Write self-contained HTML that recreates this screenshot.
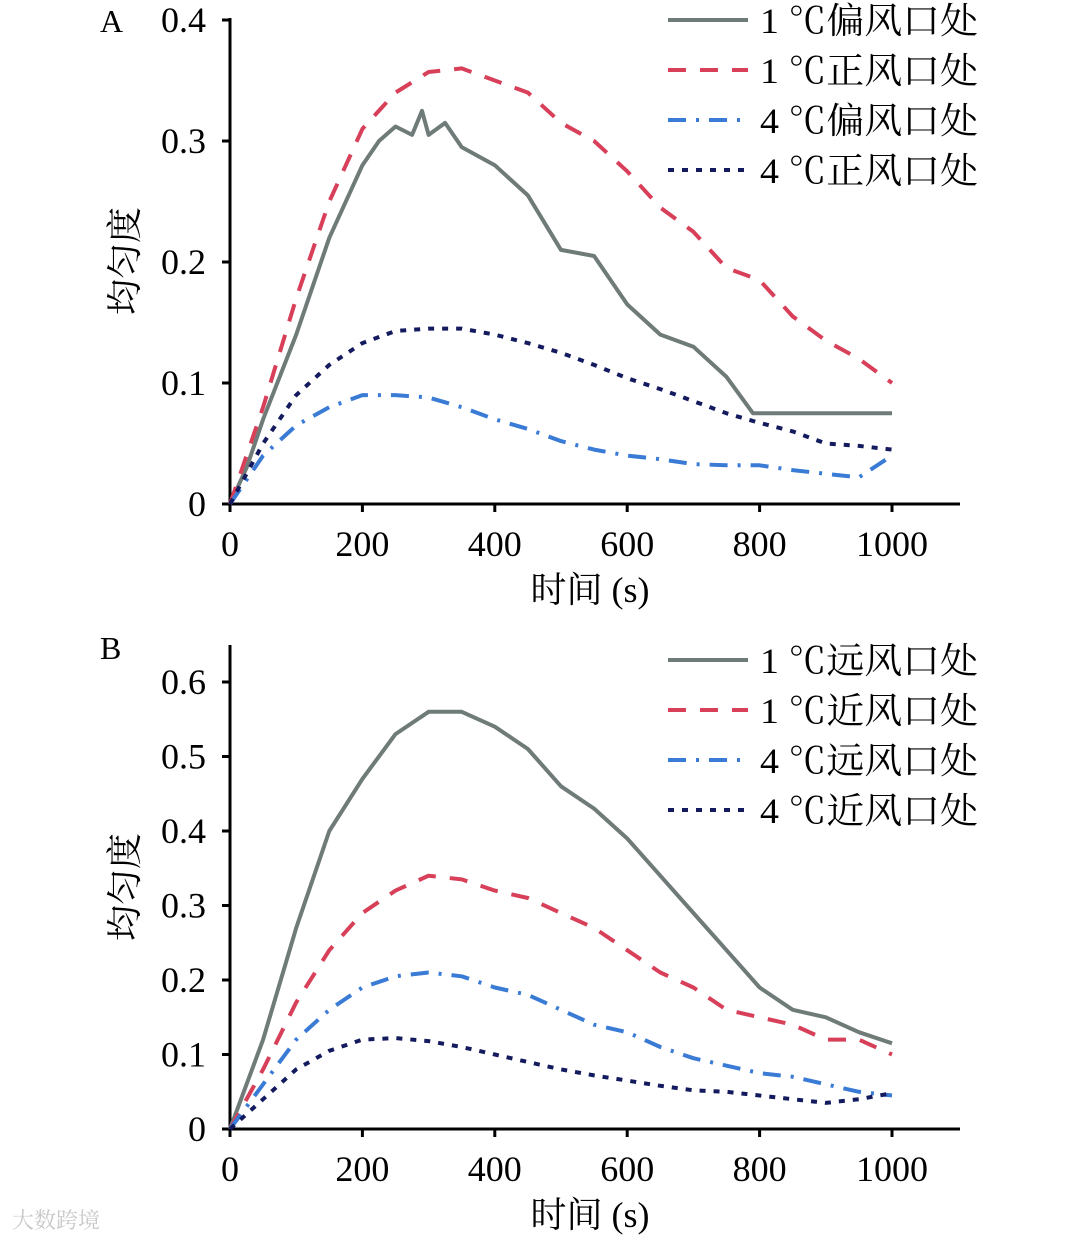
<!DOCTYPE html>
<html><head><meta charset="utf-8"><style>
body{margin:0;background:#fff}
svg{display:block;font-family:"Liberation Serif","Noto Serif CJK SC",serif}
</style></head><body>
<svg id="c" width="1080" height="1240" viewBox="0 0 1080 1240"></svg>
<script>
const xs=[0,50,100,150,200,250,300,350,400,450,500,550,600,650,700,750,800,850,900,950,1000];
const xTicks=[0,200,400,600,800,1000];
const yTicksA=[0,0.1,0.2,0.3,0.4];
const yTicksB=[0,0.1,0.2,0.3,0.4,0.5,0.6];
const xsGrayA=[0,25,50,100,150,200,225,250,275,290,300,325,350,400,450,500,550,600,650,700,750,790,1000];
const grayA=[0,0.03,0.07,0.14,0.22,0.28,0.30,0.312,0.305,0.325,0.305,0.315,0.295,0.28,0.255,0.21,0.205,0.165,0.14,0.13,0.105,0.075,0.075];
const redA=[0,0.08,0.17,0.25,0.31,0.34,0.357,0.36,0.35,0.34,0.315,0.30,0.275,0.245,0.225,0.195,0.185,0.155,0.135,0.12,0.10];
const blueA=[0,0.04,0.065,0.08,0.09,0.09,0.088,0.08,0.07,0.062,0.052,0.045,0.04,0.037,0.033,0.032,0.032,0.028,0.025,0.022,0.04];
const navyA=[0,0.05,0.09,0.115,0.133,0.143,0.145,0.145,0.14,0.133,0.125,0.115,0.104,0.095,0.085,0.075,0.067,0.06,0.05,0.048,0.045];
const grayB=[0,0.12,0.27,0.40,0.47,0.53,0.56,0.56,0.54,0.51,0.46,0.43,0.39,0.34,0.29,0.24,0.19,0.16,0.15,0.13,0.115];
const redB=[0,0.08,0.17,0.24,0.29,0.32,0.34,0.335,0.32,0.31,0.29,0.27,0.24,0.21,0.19,0.16,0.15,0.14,0.12,0.12,0.10];
const blueB=[0,0.06,0.12,0.16,0.19,0.205,0.21,0.205,0.19,0.18,0.16,0.14,0.13,0.11,0.095,0.085,0.075,0.07,0.06,0.05,0.045];
const navyB=[0,0.04,0.08,0.105,0.12,0.122,0.118,0.11,0.10,0.09,0.08,0.072,0.065,0.058,0.052,0.05,0.045,0.04,0.035,0.04,0.048];
const legendA=["1 ℃偏风口处","1 ℃正风口处","4 ℃偏风口处","4 ℃正风口处"];
const legendB=["1 ℃远风口处","1 ℃近风口处","4 ℃远风口处","4 ℃近风口处"];

const NS="http://www.w3.org/2000/svg";
const svg=document.getElementById('c');
function mk(tag,attrs,parent){const e=document.createElementNS(NS,tag);for(const k in attrs)e.setAttribute(k,attrs[k]);(parent||svg).appendChild(e);return e;}
const styles=[
 {stroke:"#6f7b78",dash:""},
 {stroke:"#d8405a",dash:"18 14"},
 {stroke:"#3a7bd5",dash:"18 10 3 10"},
 {stroke:"#141a5e",dash:"6 8"}];
function panel(o){
 const g=mk('g',{});
 
 
 const X=v=>230+v*0.662, Y=v=>o.y0-v*o.scale;
 const ax=mk('path',{d:`M230 ${o.top} V${o.y0} H960`,fill:"none",stroke:"#000","stroke-width":3},g);
 
 xTicks.forEach(t=>{
  const l=mk('line',{x1:X(t),x2:X(t),y1:o.y0,y2:o.y0+8,stroke:"#000","stroke-width":3},g);
  
  const tx=mk('text',{x:X(t),y:o.y0+52,"text-anchor":"middle","font-size":36},g);tx.textContent=t;
  
 });
 o.yt.forEach(t=>{
  const l=mk('line',{x1:222,x2:230,y1:Y(t),y2:Y(t),stroke:"#000","stroke-width":3},g);
  
  const tx=mk('text',{x:206,y:Y(t)+12,"text-anchor":"end","font-size":36},g);tx.textContent=t;
  
 });
 const lab=mk('text',{x:100,y:o.top+14,"font-size":32},g);lab.textContent=o.label;
 
 const yt=mk('text',{x:0,y:0,"font-size":36,"text-anchor":"middle",transform:`translate(137 ${(o.top+o.y0)/2}) rotate(-90)`},g);yt.textContent="均匀度";
 
 const xt=mk('text',{x:590,y:o.y0+98,"font-size":36,"text-anchor":"middle"},g);xt.textContent="时间 (s)";
 
 o.series.forEach((s,i)=>{
  const pts=s.x.map((x,j)=>X(x).toFixed(1)+","+Y(s.y[j]).toFixed(1)).join(" ");
  const p=mk('polyline',{points:pts,fill:"none",stroke:styles[i].stroke,"stroke-width":4,"stroke-dasharray":styles[i].dash,"stroke-linejoin":"round"},g);
  
 });
 o.legend.forEach((t,i)=>{
  const ly=o.legTop+i*50;
  const l=mk('line',{x1:668,x2:748,y1:ly,y2:ly,stroke:styles[i].stroke,"stroke-width":4,"stroke-dasharray":styles[i].dash},g);
  
  const tx=mk('text',{x:760,y:ly+13,"font-size":36,textLength:218,lengthAdjust:"spacingAndGlyphs"},g);tx.textContent=t;
  
 });
}
panel({name:"panel-a",label:"A",top:18,y0:504,scale:1210,yt:yTicksA,legend:legendA,legTop:20,
 series:[{x:xsGrayA,y:grayA},{x:xs,y:redA},{x:xs,y:blueA},{x:xs,y:navyA}]});
panel({name:"panel-b",label:"B",top:645,y0:1129,scale:745,yt:yTicksB,legend:legendB,legTop:660,
 series:[{x:xs,y:grayB},{x:xs,y:redB},{x:xs,y:blueB},{x:xs,y:navyB}]});
const wm=mk('text',{x:12,y:1228,"font-size":22,fill:"#c8c8c8"});wm.textContent="大数跨境";


</script>
</body></html>
